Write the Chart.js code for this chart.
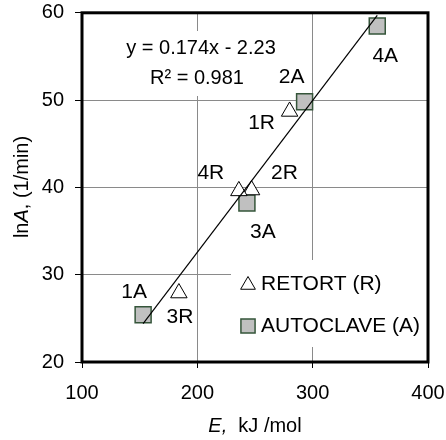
<!DOCTYPE html>
<html>
<head>
<meta charset="utf-8">
<script src="https://cdn.jsdelivr.net/npm/chart.js@4.4.0/dist/chart.umd.min.js"></script>
<style>
  html, body { margin: 0; padding: 0; background: #fff; }
  #chart { display: block; }
</style>
</head>
<body>
<canvas id="chart" width="446" height="440"></canvas>
<script>
const FONT = '"Liberation Sans", Arial, sans-serif';

/* ---------------- DATA ---------------- */

const retortLabels = ["1R", "2R", "3R", "4R"];
const retortE = [280, 247, 184, 236];
const retortLnA = [48.7, 39.7, 27.9, 39.6];

const autoclaveLabels = ["1A", "2A", "3A", "4A"];
const autoclaveE = [153, 293, 243, 356];
const autoclaveLnA = [25.4, 49.8, 38.2, 58.5];

const fitSlope = 0.174;
const fitIntercept = -2.23;
const fitR2 = 0.981;

const xTicks = [100, 200, 300, 400];
const yTicks = [20, 30, 40, 50, 60];

/* label offsets from each marker, px */
const labelOffsets = {
  "1R": [-28, 12], "2R": [33, -17], "3R": [1, 24], "4R": [-28, -18],
  "1A": [-9, -23], "2A": [-13, -25], "3A": [16, 29], "4A": [8, 30]
};

/* ---------------- DATASETS ---------------- */

const allE = retortE.concat(autoclaveE);
const fitFrom = Math.min(...allE);
const fitTo = Math.max(...allE);
const fitLine = [fitFrom, fitTo].map(x => ({ x, y: fitSlope * x + fitIntercept }));

const retortPoints = retortE.map((x, i) => ({ x, y: retortLnA[i] }));
const autoclavePoints = autoclaveE.map((x, i) => ({ x, y: autoclaveLnA[i] }));

const retortStyle = {
  pointStyle: "triangle", radius: 9.5,
  backgroundColor: "#ffffff", borderColor: "#000000", borderWidth: 1
};
const autoclaveStyle = {
  pointStyle: "rect", radius: 11.3,
  backgroundColor: "#c0c0c0", borderColor: "#35553a", borderWidth: 1.5
};

/* ---------------- DECORATIONS ---------------- */

function drawMarker(ctx, style, x, y, r) {
  ctx.save();
  ctx.fillStyle = style.backgroundColor;
  ctx.strokeStyle = style.borderColor;
  ctx.lineWidth = style.borderWidth;
  ctx.beginPath();
  if (style.pointStyle === "triangle") {
    ctx.moveTo(x, y - r);
    ctx.lineTo(x + r * Math.sqrt(3) / 2, y + r / 2);
    ctx.lineTo(x - r * Math.sqrt(3) / 2, y + r / 2);
    ctx.closePath();
  } else {
    const s = r * Math.SQRT1_2;
    ctx.rect(x - s, y - s, 2 * s, 2 * s);
  }
  ctx.fill();
  ctx.stroke();
  ctx.restore();
}

function drawRuns(ctx, x, y, runs) {
  // runs: [text, italic]
  let cx = x;
  runs.forEach(([text, italic]) => {
    ctx.font = (italic ? "italic " : "") + "20px " + FONT;
    ctx.fillText(text, cx, y);
    cx += ctx.measureText(text).width;
  });
}

function runsWidth(ctx, runs) {
  return runs.reduce((w, [text, italic]) => {
    ctx.font = (italic ? "italic " : "") + "20px " + FONT;
    return w + ctx.measureText(text).width;
  }, 0);
}

const decorations = {
  id: "decorations",
  beforeDatasetsDraw(chart) {
    const ctx = chart.ctx;
    ctx.save();
    ctx.fillStyle = "#ffffff";
    ctx.fillRect(124, 31, 160, 65);   // equation box
    ctx.fillRect(231, 260, 197, 87);  // legend box
    ctx.restore();
  },
  afterDatasetsDraw(chart) {
    const ctx = chart.ctx;
    ctx.save();
    ctx.fillStyle = "#000";
    ctx.textAlign = "center";
    ctx.textBaseline = "middle";
    ctx.font = "21px " + FONT;

    // point labels
    [[1, retortLabels], [2, autoclaveLabels]].forEach(([di, names]) => {
      chart.getDatasetMeta(di).data.forEach((pt, i) => {
        const off = labelOffsets[names[i]];
        ctx.fillText(names[i], pt.x + off[0], pt.y + off[1]);
      });
    });

    // trendline equation
    ctx.font = "20px " + FONT;
    const eq = "y = " + fitSlope + "x - " + Math.abs(fitIntercept);
    ctx.fillText(eq, 201, 48);
    ctx.fillText("R\u00b2 = " + fitR2, 197, 78);

    // legend
    ctx.font = "21px " + FONT;
    ctx.textAlign = "left";
    drawMarker(ctx, retortStyle, 248, 285, 8.5);
    ctx.fillText("RETORT (R)", 261, 284);
    drawMarker(ctx, autoclaveStyle, 248, 326, 10);
    ctx.fillText("AUTOCLAVE (A)", 261, 326);
    ctx.restore();
  },
  afterDraw(chart) {
    const ctx = chart.ctx;
    const a = chart.chartArea;
    ctx.save();
    ctx.strokeStyle = "#000";
    ctx.lineWidth = 3;
    ctx.strokeRect(a.left, a.top, a.right - a.left, a.bottom - a.top);

    // axis titles
    ctx.fillStyle = "#000";
    ctx.textAlign = "left";
    ctx.textBaseline = "middle";
    const xRuns = [["E,", true], ["  kJ /mol", false]];
    drawRuns(ctx, 255 - runsWidth(ctx, xRuns) / 2, 426, xRuns);

    const yRuns = [["ln", false], ["A", true], [", (1/min)", false]];
    ctx.translate(22, 187);
    ctx.rotate(-Math.PI / 2);
    drawRuns(ctx, -runsWidth(ctx, yRuns) / 2, 0, yRuns);
    ctx.restore();
  }
};

/* ---------------- CHART ---------------- */

const gridColor = (edges) => (c) =>
  edges.includes(c.tick && c.tick.value) ? "rgba(0,0,0,0)" : "#8a8a8a";

function fixBox(size, key) {
  return s => {
    s[key] = size;
    s.paddingLeft = s.paddingRight = s.paddingTop = s.paddingBottom = 0;
  };
}

new Chart(document.getElementById("chart"), {
  type: "scatter",
  data: {
    datasets: [
      {
        type: "line",
        data: fitLine,
        borderColor: "#000",
        borderWidth: 1.2,
        pointRadius: 0,
        fill: false,
        order: 0
      },
      Object.assign({ data: retortPoints, order: 1 }, retortStyle),
      Object.assign({ data: autoclavePoints, order: 2 }, autoclaveStyle)
    ]
  },
  options: {
    responsive: false,
    animation: false,
    layout: { padding: { left: 0, right: 18, top: 12, bottom: 0 } },
    plugins: { legend: { display: false }, tooltip: { enabled: false } },
    scales: {
      x: {
        type: "linear",
        min: xTicks[0],
        max: xTicks[xTicks.length - 1],
        afterBuildTicks: s => { s.ticks = xTicks.map(value => ({ value })); },
        afterFit: fixBox(78, "height"),
        border: { display: false },
        grid: {
          color: gridColor([100, 400]),
          lineWidth: 1,
          tickColor: "#000",
          tickLength: 6,
          tickWidth: 1
        },
        ticks: { color: "#000", padding: 13, maxRotation: 0, font: { family: FONT, size: 20 } }
      },
      y: {
        type: "linear",
        min: yTicks[0],
        max: yTicks[yTicks.length - 1],
        afterBuildTicks: s => { s.ticks = yTicks.map(value => ({ value })); },
        afterFit: fixBox(82, "width"),
        border: { display: false },
        grid: {
          color: gridColor([20, 60]),
          lineWidth: 1,
          tickColor: "#000",
          tickLength: 7,
          tickWidth: 1
        },
        ticks: { color: "#000", padding: 11, font: { family: FONT, size: 20 } }
      }
    }
  },
  plugins: [decorations]
});
</script>
</body>
</html>
